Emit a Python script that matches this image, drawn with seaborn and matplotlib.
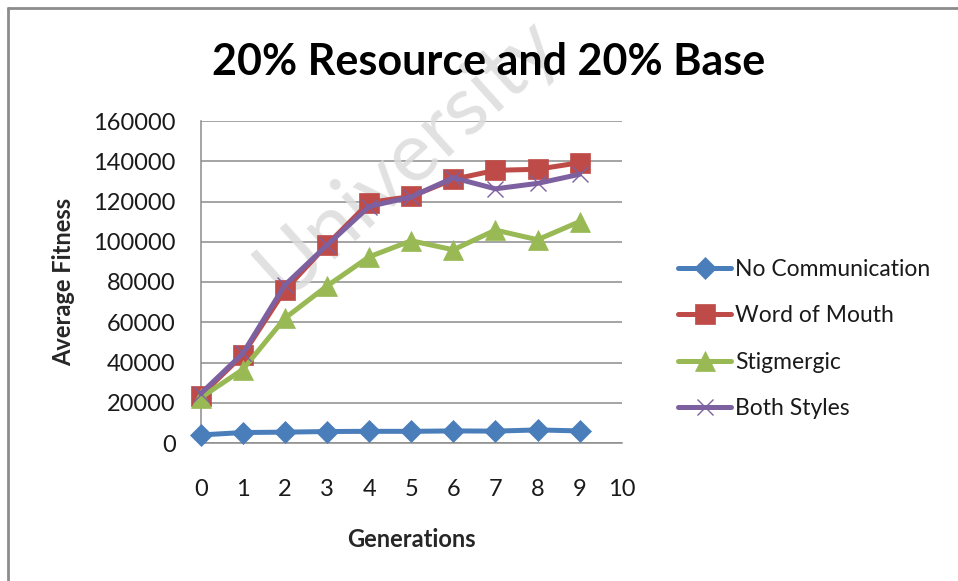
import matplotlib
matplotlib.use("Agg")
import matplotlib.pyplot as plt
import seaborn as sns
import pandas as pd

generations = [0, 1, 2, 3, 4, 5, 6, 7, 8, 9]
no_communication = [4000, 5200, 5400, 5700, 5800, 5800, 6000, 5900, 6500, 6000]
word_of_mouth = [23500, 43800, 76000, 98500, 119500, 122500, 131000, 135500, 136000, 139300]
stigmergic = [22500, 36500, 62000, 78000, 92500, 100500, 96000, 105800, 101000, 110000]
both_styles = [24500, 44500, 78500, 98300, 117500, 122300, 131800, 126300, 129000, 133500]

series_names = ["No Communication", "Word of Mouth", "Stigmergic", "Both Styles"]
series_values = [no_communication, word_of_mouth, stigmergic, both_styles]
colors = ["#4A7EBB", "#BE4B48", "#98B954", "#7D60A0"]
markers = ["D", "s", "^", "x"]
marker_sizes = [11, 14, 15, 11]

y_ticks = [0, 20000, 40000, 60000, 80000, 100000, 120000, 140000, 160000]
x_ticks = [0, 1, 2, 3, 4, 5, 6, 7, 8, 9, 10]

df = pd.DataFrame({
    "Generations": generations * len(series_names),
    "Average Fitness": sum(series_values, []),
    "Series": [n for n in series_names for _ in generations],
})

sns.set_theme(style="white")
plt.rcParams["font.family"] = ["Lato", "DejaVu Sans"]

fig = plt.figure(figsize=(9.58, 5.81), dpi=100)
ax = fig.add_axes([200.7 / 958, 1 - 443 / 581, 421 / 958, 322 / 581])

for name, col, mk, ms in zip(series_names, colors, markers, marker_sizes):
    sub = df[df["Series"] == name]
    sns.lineplot(data=sub, x="Generations", y="Average Fitness", ax=ax,
                 color=col, linewidth=3.6, marker=mk, markersize=ms,
                 markeredgecolor=col, markeredgewidth=1.0 if mk == "x" else 0.5,
                 label=name, zorder=4, clip_on=False)

ax.set_xlim(0, 10)
ax.set_ylim(0, 160000)
ax.set_xticks(x_ticks)
ax.set_yticks(y_ticks)
ax.set_xticklabels([str(v) for v in x_ticks], fontsize=17)
ax.set_yticklabels([str(v) for v in y_ticks], fontsize=17)
ax.yaxis.grid(True, color="#8c8c8c", linewidth=1.1)
ax.xaxis.grid(False)
ax.set_axisbelow(True)
for side in ["top", "right"]:
    ax.spines[side].set_visible(False)
for side in ["left", "bottom"]:
    ax.spines[side].set_color("#8c8c8c")
    ax.spines[side].set_linewidth(1.1)
ax.tick_params(axis="both", which="major", direction="out", length=7,
               width=1.1, color="#8c8c8c", labelcolor="#1a1a1a")
ax.tick_params(axis="x", pad=19)
ax.tick_params(axis="y", pad=11)

ax.set_xlabel("Generations", fontsize=17, fontweight="bold", labelpad=20)
ax.set_ylabel("Average Fitness", fontsize=17, fontweight="bold", labelpad=13)

# faint watermark across the plot area
ax.text(0.49, 0.89, "University", transform=ax.transAxes, fontsize=60,
        color="#dcdcdc", rotation=42, ha="center", va="center",
        zorder=2, clip_on=False, alpha=0.85)

fig.text(489 / 958, 1 - 62 / 581, "20% Resource and 20% Base",
         ha="center", va="center", fontsize=31, fontweight="bold", color="black",
         zorder=10)

leg = ax.legend(loc="center left", bbox_to_anchor=(657 / 958, 1 - 339 / 581),
                bbox_transform=fig.transFigure, frameon=False, fontsize=16.5,
                handlelength=2.35, handletextpad=0.15, labelspacing=1.1)
for t in leg.get_texts():
    t.set_color("#1a1a1a")

# chart frame edges
fig.add_artist(plt.Line2D([8 / 958, 8 / 958], [0, 1 - 8 / 581],
                          transform=fig.transFigure, color="#8c8c8c", linewidth=2))
fig.add_artist(plt.Line2D([8 / 958, 1], [1 - 8 / 581, 1 - 8 / 581],
                          transform=fig.transFigure, color="#8c8c8c", linewidth=2))

fig.savefig("out.png", dpi=100)
